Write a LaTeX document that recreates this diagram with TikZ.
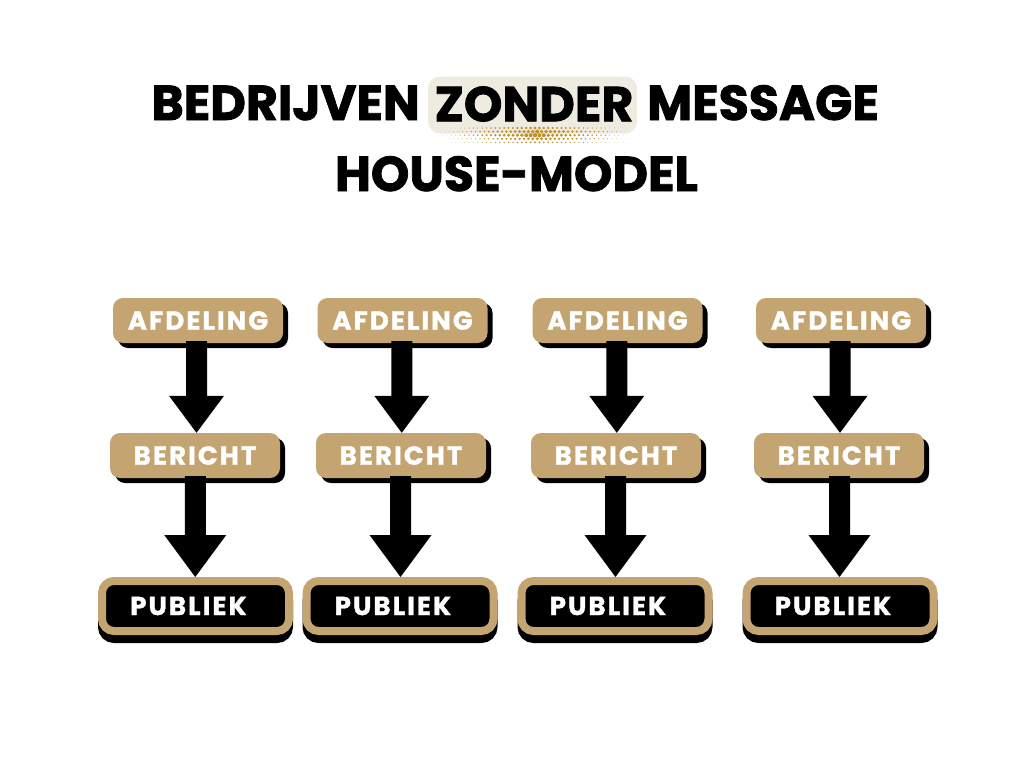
\documentclass[tikz,border=0pt]{standalone}
\usepackage{fontspec}
\setmainfont{Poppins}
\newfontfamily\titlefam[FakeBold=1.6]{Poppins}
\newfontfamily\lblfont[LetterSpace=8,FakeBold=1.2]{Poppins}
\usetikzlibrary{calc}
\definecolor{gold}{HTML}{C4A571}
\definecolor{beige}{HTML}{EFEBE1}
\definecolor{dotgold}{HTML}{C3922F}
\newcommand\myarrow[4]{%
  \fill[black] let \p1=(#1.south), \p2=(#2.north), \p3=($(\p1)!0.5!(\p2)$) in
    (\x3-10.5pt,\y1+2pt) -- (\x3+10.5pt,\y1+2pt) -- (\x3+10.5pt,\y2+#3) --
    (\x3+#4,\y2+#3) -- (\x3,\y2) -- (\x3-#4,\y2+#3) -- (\x3-10.5pt,\y2+#3) -- cycle;}
\tikzset{
  titlefont/.style={font=\titlefam\bfseries\fontsize{49}{49}\selectfont, inner sep=0pt},
  goldbox/.style={fill=gold, rounded corners=10pt, minimum width=170pt, minimum height=45pt,
    inner sep=0pt, text=white, font=\lblfont\bfseries\fontsize{26}{26}\selectfont,
    preaction={fill=black, transform canvas={shift={(5pt,-5pt)}}}},
  pubbox/.style={fill=black, draw=gold, line width=8pt, rounded corners=12pt,
    minimum width=187pt, minimum height=50pt, inner sep=0pt, text=white,
    font=\lblfont\bfseries\fontsize{26}{26}\selectfont,
    preaction={fill=black, draw=black, transform canvas={shift={(0pt,-8pt)}}}},
}
\begin{document}
\begin{tikzpicture}[x=1pt,y=-1pt]
\useasboundingbox[fill=white] (0,0) rectangle (1024,768);
% title
\node[fill=beige, rounded corners=12pt, minimum width=209pt, minimum height=57pt, inner sep=0pt] (hl) at (532.5,105) {};
\foreach \r in {0,...,4} {
  \foreach \c in {-22,...,22} {
    \pgfmathsetmacro\xx{535+\c*4.4+mod(\r,2)*2.2}
    \pgfmathsetmacro\yy{128+\r*3.6}
    \pgfmathsetmacro\rad{max(0,2.4*(1-abs(\c)/23)*(1-abs(\r-1.6)/4.4))}
    \fill[dotgold] (\xx,\yy) circle[radius=\rad pt];
  }
}
\node[titlefont] (zonder) at (534,104) {ZONDER};
\node[titlefont, anchor=base east] (bedr) at (420,120) {BEDRIJVEN};
\node[titlefont, anchor=base west] (mess) at (647,120) {MESSAGE};
\node[titlefont, anchor=base] (house) at (516.5,191) {HOUSE-MODEL};
% columns
\foreach \i/\xa/\xb/\xc in {1/198/195/195.5, 2/402.5/401/400, 3/617.5/616/615, 4/841/839/840} {
  \node[goldbox] (a\i) at (\xa,320.5) {AFDELING};
  \node[goldbox] (b\i) at (\xb,455.5) {BERICHT};
  \node[pubbox] (p\i) at (\xc,606) {\hspace*{-14pt}PUBLIEK};
  \myarrow{a\i}{b\i}{37pt}{27.5pt}
  \myarrow{b\i}{p\i}{42pt}{31pt}
}
\end{tikzpicture}
\end{document}
